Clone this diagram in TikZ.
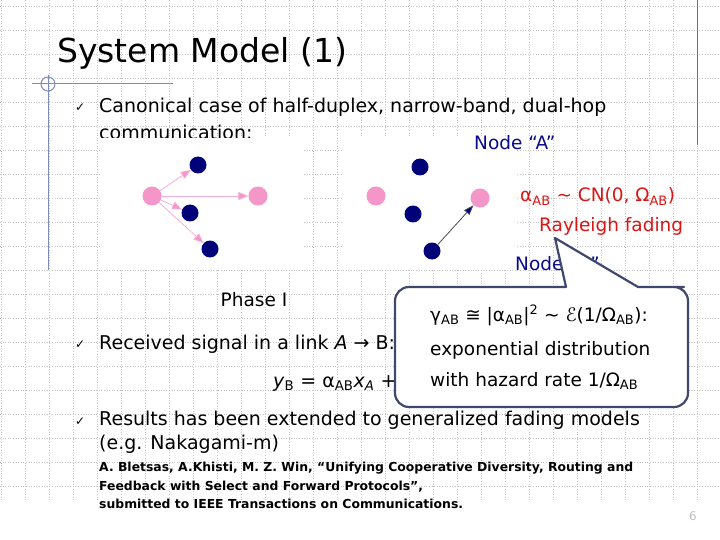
\documentclass[tikz,border=0pt]{standalone}
\usepackage{fontspec}
\setmainfont{DejaVu Sans}
\usetikzlibrary{positioning,arrows.meta}
\definecolor{decoblue}{RGB}{125,140,185}
\definecolor{navydot}{RGB}{0,0,120}
\definecolor{pinkdot}{RGB}{245,150,200}
\definecolor{pinkline}{RGB}{245,175,215}
\definecolor{labelblue}{RGB}{10,10,140}
\definecolor{fadered}{RGB}{220,20,20}
\definecolor{bubbleline}{RGB}{64,72,110}

\begin{document}
\begin{tikzpicture}[x=1pt,y=-1pt,
  gridline/.style={gray!45,dotted,line width=0.6pt},
  deco/.style={draw=decoblue,line width=1pt},
  body/.style={anchor=base west,inner sep=0pt,font=\fontsize{19}{22}\selectfont},
  tick/.style={anchor=base west,inner sep=0pt,font=\fontsize{12}{13}\selectfont},
  ref/.style={anchor=base west,inner sep=0pt,font=\fontsize{12.4}{14}\selectfont\bfseries},
  lbl/.style={anchor=base west,inner sep=0pt,font=\fontsize{18.5}{21}\selectfont},
  navy/.style={circle,fill=navydot,minimum size=17pt,inner sep=0pt},
  pink/.style={circle,fill=pinkdot,minimum size=19pt,inner sep=0pt},
  par/.style={draw=pinkline,line width=0.8pt,-{Triangle[length=10pt,width=8pt,fill=pinkdot]}},
  nar/.style={draw=gray!60!black,line width=0.8pt,-{Triangle[length=10pt,width=7pt,fill=navydot]}},
  bubble/.style={draw=bubbleline,line width=2.2pt,fill=white,line join=round}]
\useasboundingbox (0,0) rectangle (720,540);
% background grid
\foreach \gx in {1,25,...,697} \draw[gridline] (\gx,0) -- (\gx,500);
\foreach \gy in {6,30,...,486} \draw[gridline] (0,\gy) -- (720,\gy);
% slide decoration
\draw[deco] (32,84) -- (173,84);
\draw[deco] (48,75) -- (48,270);
\draw[deco] (48,84) circle (7);
\draw[deco,draw=decoblue!80!black] (697,0) -- (697,145);
\node[anchor=base west,inner sep=0pt,font=\fontsize{33}{38}\selectfont] (title) at (57,63) {System Model (1)};

% bullets
\node[tick] (tk1) at (75,112) {✓};
\node[body] (can1) at (99,113) {Canonical case of half-duplex, narrow-band, dual-hop};
\node[body] (can2) at ([yshift=-27pt]can1.base west) {communication:};
\node[tick] (tk2) at (75,348) {✓};
\node[body] (recv) at (99,349) {Received signal in a link \textit{A} → B:};
\node[body] (eqn) at (273,387) {\textit{y}\textsubscript{B} = α\textsubscript{AB}\textit{x}\textsubscript{\textit{A}} + \textit{n}\textsubscript{B}};
\node[tick] (tk3) at (75,425) {✓};
\node[body] (res1) at (99,425) {Results has been extended to generalized fading models};
\node[body] (res2) at ([yshift=-24pt]res1.base west) {(e.g. Nakagami-m)};
\node[ref] (ref1) at (99,471) {A. Bletsas, A.Khisti, M. Z. Win, “Unifying Cooperative Diversity, Routing and};
\node[ref] (ref2) at ([yshift=-19pt]ref1.base west) {Feedback with Select and Forward Protocols”,};
\node[ref] (ref3) at ([yshift=-18pt]ref2.base west) {submitted to IEEE Transactions on Communications.};
\node[font=\fontsize{12}{14}\selectfont,text=gray!50] (pgno) at (693,516) {6};

% phase I picture
\fill[white] (100,138) rectangle (303,270);
\node[pink] (src1) at (152,196) {};
\node[navy] (r1) at (198,165) {};
\node[navy] (r2) at (190,213) {};
\node[navy] (r3) at (210,249) {};
\node[pink] (dst1) at (258,196) {};
\draw[par] (src1) -- (r1);
\draw[par] (src1) -- (r2);
\draw[par] (src1) -- (r3);
\draw[par] (src1) -- (dst1);
\node[lbl,anchor=base] (ph1) at (254,306) {Phase I};

% relay picture
\fill[white] (343,138) rectangle (517,270);
\node[pink] (src2) at (376,196) {};
\node[navy] (s1) at (420,167) {};
\node[navy] (s2) at (413,214) {};
\node[navy] (s3) at (432,251) {};
\node[pink] (dst2) at (480,198) {};
\draw[nar] (s3) -- (dst2);

% labels
\node[lbl,text=labelblue] (nodeA) at (474,150) {Node “A”};
\node[lbl,text=labelblue] (nodeB) at (515,270) {Node “B”};
\node[lbl,text=fadered] (cn) at (520,202) {α\textsubscript{AB} ∼ CN(0, Ω\textsubscript{AB})};
\node[lbl,text=fadered] (ray) at (539,232) {Rayleigh fading};

% callout
\draw[bubble] (555,238) -- (566,287) -- (480,287) [rounded corners=14pt] -- (395,287)
  -- (395,407) -- (688,407) -- (688,287) -- (670,287) [sharp corners] -- (638,287) -- cycle;
\node[lbl] (exp1) at (430,321) {γ\textsubscript{AB} ≅ |α\textsubscript{AB}|\textsuperscript{2} ∼ ℰ(1/Ω\textsubscript{AB}):};
\node[lbl] (exp2) at (430,355) {exponential distribution};
\node[lbl] (exp3) at (430,386) {with hazard rate 1/Ω\textsubscript{AB}};
\end{tikzpicture}
\end{document}
